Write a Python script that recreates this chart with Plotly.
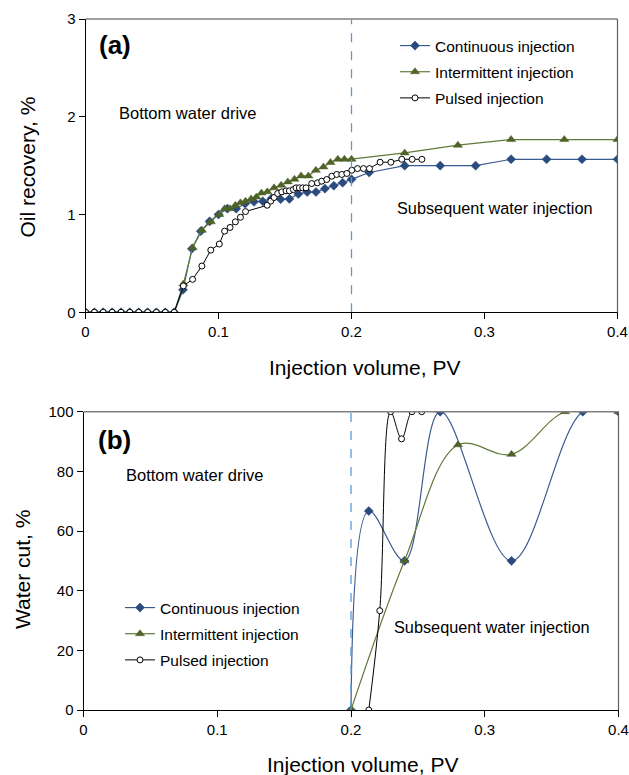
import plotly.graph_objects as go

# ---------------- data ----------------
zeros_x = [0, 0.0067, 0.0133, 0.02, 0.0267, 0.0333, 0.04, 0.0467, 0.0533, 0.06, 0.0667]
zeros_y = [0] * 11

# (a) oil recovery
cont_x = zeros_x + [0.0733, 0.08, 0.0867, 0.0933, 0.1, 0.1067, 0.1133, 0.12, 0.1267, 0.1333,
                    0.14, 0.1467, 0.1533, 0.16, 0.1667, 0.1733, 0.18, 0.1867, 0.1933, 0.2,
                    0.2133, 0.24, 0.2667, 0.2933, 0.32, 0.3467, 0.3733, 0.4]
cont_y = zeros_y + [0.23, 0.65, 0.83, 0.93, 1.0, 1.06, 1.06, 1.11, 1.13, 1.136,
                    1.167, 1.156, 1.16, 1.21, 1.23, 1.23, 1.265, 1.295, 1.325, 1.36,
                    1.43, 1.50, 1.50, 1.50, 1.565, 1.565, 1.565, 1.565]

inter_x = zeros_x + [0.0736, 0.0805, 0.0875, 0.0942, 0.1006, 0.1046, 0.1087, 0.1127, 0.1165, 0.1203,
                     0.1245, 0.1285, 0.1323, 0.1367, 0.1418, 0.1471, 0.1521, 0.1571, 0.1621, 0.1676,
                     0.1732, 0.1789, 0.1842, 0.1897, 0.1947, 0.2, 0.24, 0.28, 0.32, 0.36, 0.4]
inter_y = zeros_y + [0.29, 0.66, 0.84, 0.925, 1.0, 1.06, 1.06, 1.095, 1.12, 1.136,
                     1.16, 1.18, 1.22, 1.232, 1.273, 1.30, 1.334, 1.36, 1.395, 1.395,
                     1.453, 1.487, 1.532, 1.566, 1.566, 1.566, 1.63, 1.709, 1.767, 1.767, 1.767]

puls_x = zeros_x + [0.0736, 0.0805, 0.0875, 0.0942, 0.1006, 0.1046, 0.1087, 0.1127, 0.1165, 0.1203,
                    0.1366, 0.1393, 0.1418, 0.1445, 0.1476, 0.1508, 0.1533, 0.1563, 0.1583, 0.1608,
                    0.1633, 0.1658, 0.1701, 0.1744, 0.1776, 0.1814, 0.1852, 0.1889, 0.1927, 0.1965,
                    0.2002, 0.2045, 0.209, 0.2135, 0.2215, 0.2296, 0.2378, 0.2456, 0.2529]
puls_y = zeros_y + [0.27, 0.337, 0.473, 0.636, 0.698, 0.83, 0.868, 0.925, 0.972, 1.03,
                    1.095, 1.137, 1.174, 1.215, 1.232, 1.242, 1.242, 1.256, 1.273, 1.273,
                    1.273, 1.273, 1.317, 1.324, 1.341, 1.358, 1.392, 1.41, 1.41, 1.42,
                    1.453, 1.47, 1.47, 1.47, 1.535, 1.535, 1.565, 1.565, 1.565]

# (b) water cut
wc_cont_x = [0.2, 0.2133, 0.24, 0.2667, 0.32, 0.3733, 0.4]
wc_cont_y = [0, 66.7, 50, 100, 50, 100, 100]
wc_inter_x = [0.2, 0.24, 0.28, 0.32, 0.36, 0.4]
wc_inter_y = [0, 50, 88.9, 85.7, 100, 100]
wc_puls_x = [0.2133, 0.2215, 0.2296, 0.2378, 0.2456, 0.2529]
wc_puls_y = [0, 33.3, 100, 90.9, 100, 100]

names = ["Continuous injection", "Intermittent injection", "Pulsed injection"]
x_ticks = [0, 0.1, 0.2, 0.3, 0.4]
x_tick_text = ["0", "0.1", "0.2", "0.3", "0.4"]
oil_ticks = [0, 1, 2, 3]
wc_ticks = [0, 20, 40, 60, 80, 100]

# ---------------- style ----------------
FONT = "Liberation Sans, Arial, sans-serif"
BLUE = "#2B4A7E"
BLUE_LINE = "#3A5A92"
GREEN = "#4F6228"
GREEN_LINE = "#62793A"
DASH = "#5B9BD5"

fig = go.Figure()

def add_series(x, y, xa, ya, kind, legend, shape):
    if kind == 0:
        marker = dict(symbol="diamond", size=7, color=BLUE, line=dict(color=BLUE, width=0.5))
        line = dict(color=BLUE_LINE, width=1.2, shape=shape)
    elif kind == 1:
        marker = dict(symbol="triangle-up", size=8, color=GREEN, line=dict(color=GREEN, width=0.5))
        line = dict(color=GREEN_LINE, width=1.2, shape=shape)
    else:
        marker = dict(symbol="circle", size=6, color="white", line=dict(color="black", width=1))
        line = dict(color="black", width=1, shape=shape)
    fig.add_trace(go.Scatter(x=x, y=y, xaxis=xa, yaxis=ya, mode="lines+markers",
                             name=names[kind], marker=marker, line=line,
                             legend=legend, legendgroup=legend + str(kind)))

add_series(cont_x, cont_y, "x", "y", 0, "legend", "linear")
add_series(inter_x, inter_y, "x", "y", 1, "legend", "linear")
add_series(puls_x, puls_y, "x", "y", 2, "legend", "linear")
add_series(wc_cont_x, wc_cont_y, "x2", "y2", 0, "legend2", "spline")
add_series(wc_inter_x, wc_inter_y, "x2", "y2", 1, "legend2", "spline")
add_series(wc_puls_x, wc_puls_y, "x2", "y2", 2, "legend2", "spline")

axis_common = dict(showgrid=False, zeroline=False, showline=True, linecolor="black", linewidth=1,
                   ticks="outside", ticklen=6, tickcolor="black", tickwidth=1,
                   tickfont=dict(family=FONT, size=15, color="black"), automargin=False)

fig.update_layout(
    width=629, height=775,
    margin=dict(l=0, r=0, t=0, b=0),
    paper_bgcolor="white", plot_bgcolor="white",
    font=dict(family=FONT, color="black"),
    xaxis=dict(domain=[85.5 / 629, 617.5 / 629], range=[0, 0.4], tickvals=x_ticks,
               ticktext=x_tick_text, anchor="y", **axis_common),
    yaxis=dict(domain=[1 - 312.3 / 775, 1 - 19 / 775], range=[0, 3], tickvals=oil_ticks,
               anchor="x", **axis_common),
    xaxis2=dict(domain=[83.5 / 629, 618.5 / 629], range=[0, 0.4], tickvals=x_ticks,
                ticktext=x_tick_text, anchor="y2", **axis_common),
    yaxis2=dict(domain=[1 - 710 / 775, 1 - 411.7 / 775], range=[0, 100], tickvals=wc_ticks,
                anchor="x2", **axis_common),
    legend=dict(x=395 / 629, y=1 - 29 / 775, xanchor="left", yanchor="top",
                font=dict(family=FONT, size=15.5, color="black"), bgcolor="rgba(0,0,0,0)",
                tracegroupgap=3, traceorder="grouped"),
    legend2=dict(x=120 / 629, y=1 - 591 / 775, xanchor="left", yanchor="top",
                 font=dict(family=FONT, size=15.5, color="black"), bgcolor="rgba(0,0,0,0)",
                 tracegroupgap=3, traceorder="grouped"),
    showlegend=True,
)

# frame borders (top/right gray) and dashed divider
for xa, ya in (("x", "y"), ("x2", "y2")):
    fig.add_shape(type="line", xref=f"{xa} domain", yref=f"{ya} domain", x0=0, x1=1, y0=1, y1=1,
                  line=dict(color="#808080", width=1.5))
    fig.add_shape(type="line", xref=f"{xa} domain", yref=f"{ya} domain", x0=1, x1=1, y0=0, y1=1,
                  line=dict(color="#606060", width=1.2))
fig.add_shape(type="line", xref="x", yref="y", x0=0.2, x1=0.2, y0=0, y1=3,
              line=dict(color=DASH, width=1.3, dash="dash"))
fig.add_shape(type="line", xref="x2", yref="y2", x0=0.2, x1=0.2, y0=0, y1=100,
              line=dict(color=DASH, width=1.3, dash="dash"))

def ann(text, x, y, xref, yref, size, bold=False, xanchor="left", angle=0):
    fig.add_annotation(text=f"<b>{text}</b>" if bold else text, x=x, y=y, xref=xref, yref=yref,
                       xanchor=xanchor, yanchor="middle", showarrow=False, textangle=angle,
                       font=dict(family=FONT, size=size, color="black"))

ann("(a)", 0.0085, 2.73, "x", "y", 26, bold=True)
ann("(b)", 0.0095, 90.5, "x2", "y2", 26, bold=True)
ann("Bottom water drive", 0.0237, 2.04, "x", "y", 16.5)
ann("Subsequent water injection", 0.2327, 1.065, "x", "y", 16.3)
ann("Bottom water drive", 0.030, 78.7, "x2", "y2", 16.5)
ann("Subsequent water injection", 0.231, 27.8, "x2", "y2", 16.3)
ann("Injection volume, PV", 364.6 / 629, 1 - 367 / 775, "paper", "paper", 21, xanchor="center")
ann("Injection volume, PV", 362 / 629, 1 - 764 / 775, "paper", "paper", 21, xanchor="center")
ann("Oil recovery, %", 27 / 629, 1 - 167.5 / 775, "paper", "paper", 21, xanchor="center", angle=-90)
ann("Water cut, %", 22 / 629, 1 - 570 / 775, "paper", "paper", 21, xanchor="center", angle=-90)

fig.write_html("out.html")
